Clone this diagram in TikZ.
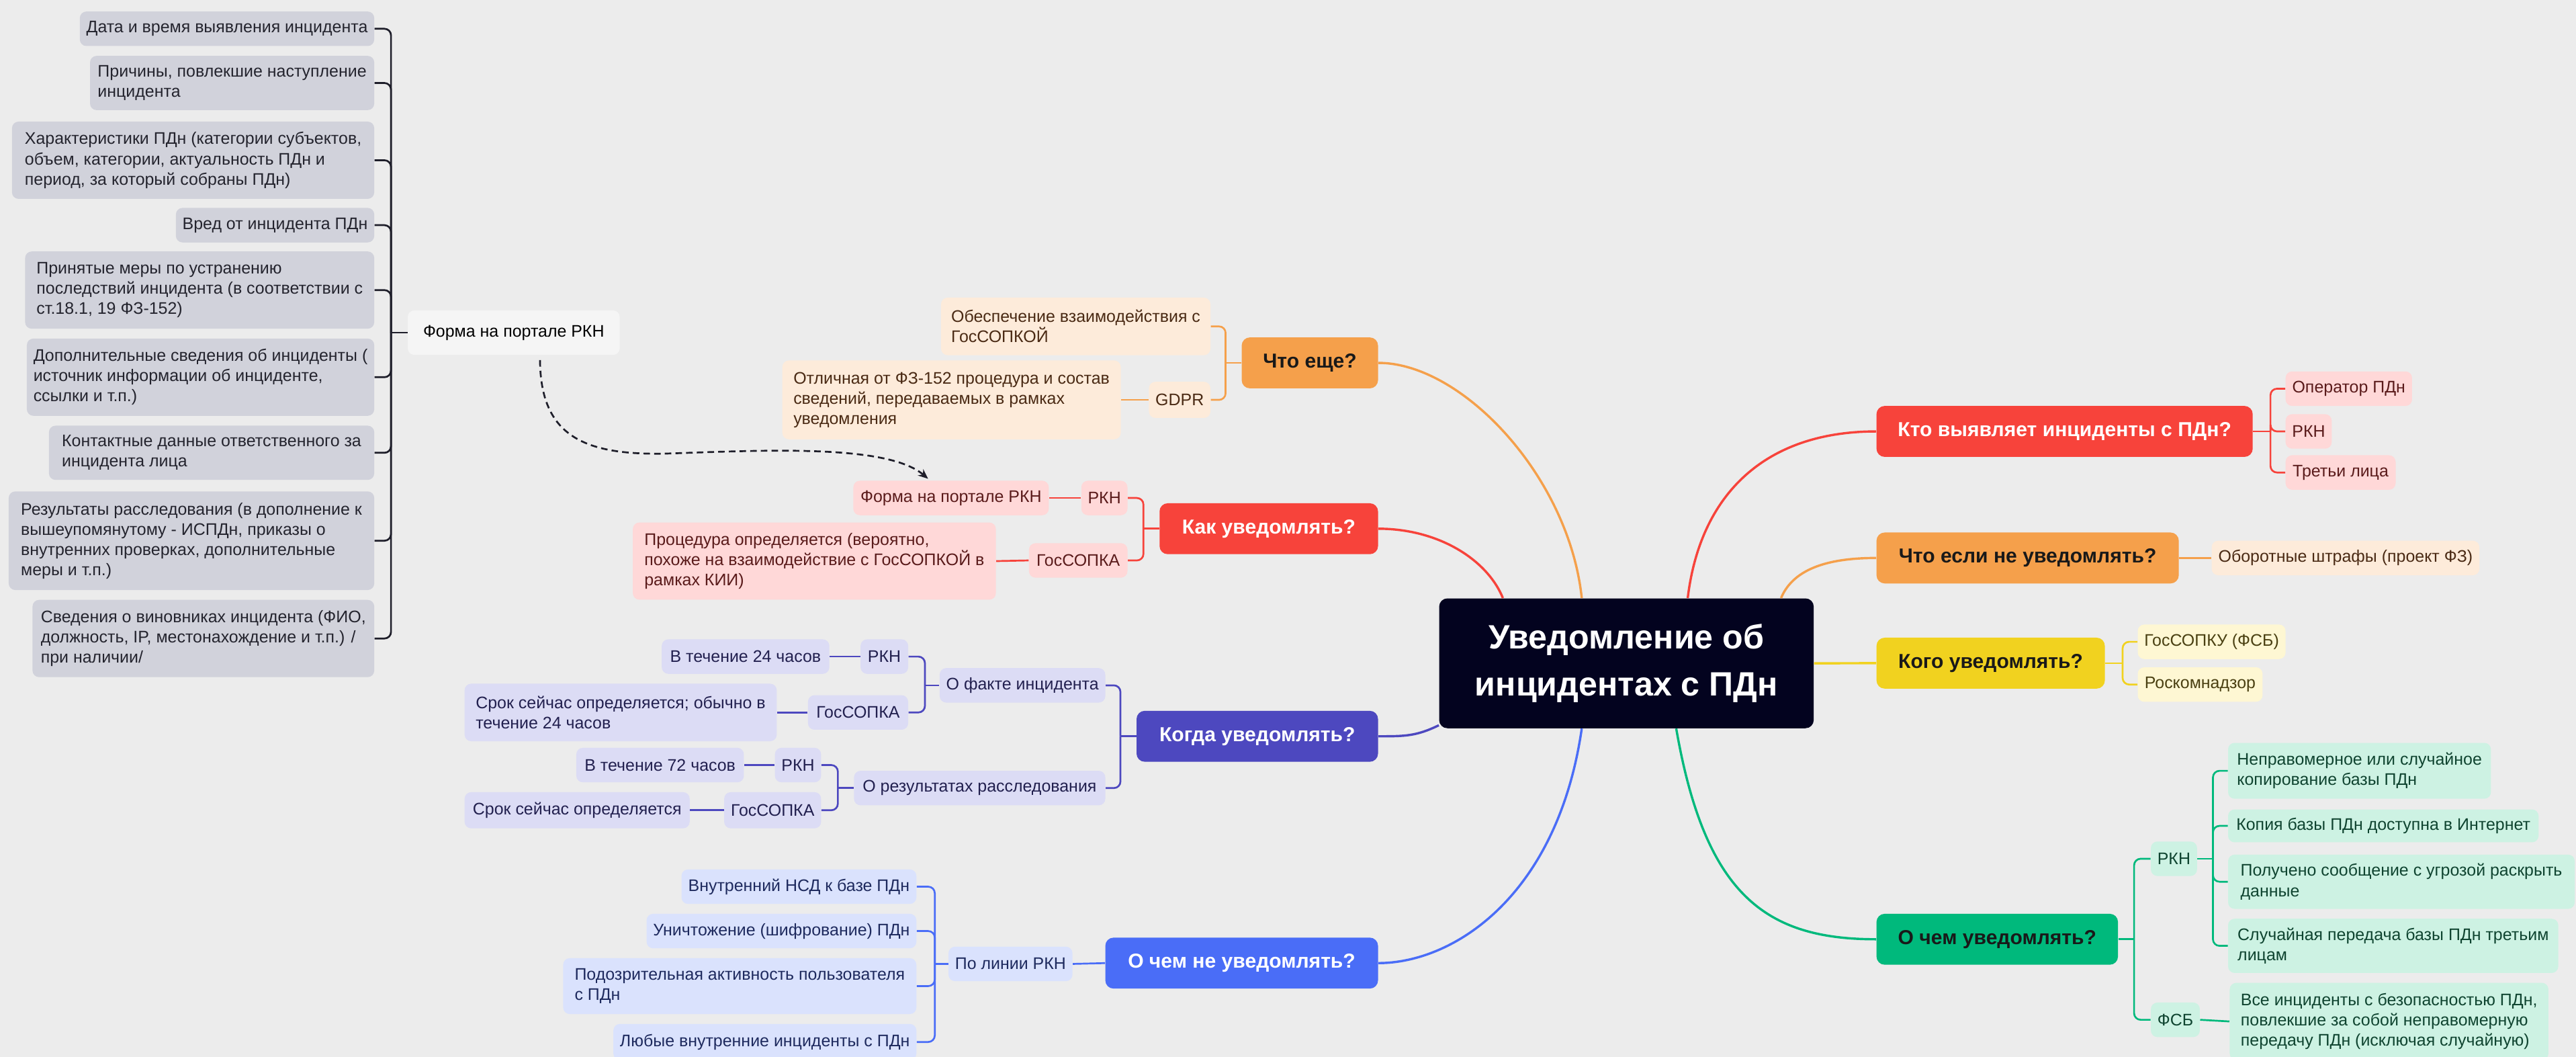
\documentclass[tikz,border=0pt]{standalone}
\usepackage{fontspec}
\setmainfont{Liberation Sans}
\usetikzlibrary{arrows.meta}

\definecolor{paper}{HTML}{ECECEC}
\definecolor{hubcol}{HTML}{03031F}
\definecolor{orangecol}{HTML}{F5A04B}
\definecolor{orangesoft}{HTML}{FDEBDA}
\definecolor{orangeink}{HTML}{4A2A14}
\definecolor{redcol}{HTML}{F7433B}
\definecolor{redsoft}{HTML}{FFD8D8}
\definecolor{redink}{HTML}{5A1B1B}
\definecolor{indigocol}{HTML}{4D48BF}
\definecolor{indigosoft}{HTML}{DCDCF5}
\definecolor{indigoink}{HTML}{22204F}
\definecolor{bluecol}{HTML}{4A6DF7}
\definecolor{bluesoft}{HTML}{DAE2FD}
\definecolor{blueink}{HTML}{1E2A5E}
\definecolor{yellowcol}{HTML}{F1D21F}
\definecolor{yellowsoft}{HTML}{FEF7D3}
\definecolor{yellowink}{HTML}{4A4012}
\definecolor{greencol}{HTML}{00B97C}
\definecolor{greensoft}{HTML}{CDF2E3}
\definecolor{greenink}{HTML}{0F4430}
\definecolor{graysoft}{HTML}{D1D2DB}
\definecolor{grayink}{HTML}{24242E}
\definecolor{inkline}{HTML}{1E1E2A}

\tikzset{
  leaf/.style={rounded corners=4pt, inner xsep=4pt, inner ysep=2pt, align=left,
    minimum height=21, font=\fontsize{10.2}{12.3}\selectfont},
  grayleaf/.style={leaf, fill=graysoft, text=grayink},
  orangeleaf/.style={leaf, fill=orangesoft, text=orangeink},
  redleaf/.style={leaf, fill=redsoft, text=redink},
  indigoleaf/.style={leaf, fill=indigosoft, text=indigoink},
  blueleaf/.style={leaf, fill=bluesoft, text=blueink},
  yellowleaf/.style={leaf, fill=yellowsoft, text=yellowink},
  greenleaf/.style={leaf, fill=greensoft, text=greenink},
  topic/.style={rounded corners=5pt, inner xsep=6pt, minimum height=31,
    text=black!90, font=\bfseries\fontsize{12.3}{14}\selectfont},
  hub/.style={rounded corners=5pt, fill=hubcol, text=white, align=center,
    font=\bfseries\fontsize{20.5}{28.6}\selectfont},
  link/.style={draw=#1, line width=1.1pt, rounded corners=4pt},
  branch/.style={draw=#1, line width=1.4pt},
  dashflow/.style={draw=inkline, line width=1.1pt, dash pattern=on 4pt off 2.5pt,
    -{Stealth[length=6pt,width=5pt]}}
}

\begin{document}
\begin{tikzpicture}[x=1pt, y=-1pt]
    \fill[paper] (0,0) rectangle (1568,643);
    \useasboundingbox (0,0) rectangle (1568,643);

    % Central topic
    \node[hub, minimum width=228, minimum height=79] (hub) at (990,403.6) {Уведомление об\\инцидентах с ПДн};

    % Main topics, left side
    \node[topic, fill=orangecol, minimum width=83, anchor=east] (whatElse) at (839,220.8) {Что еще?};
    \node[topic, fill=redcol, text=white, minimum width=133, anchor=east] (howNotify) at (839,321.7) {Как уведомлять?};
    \node[topic, fill=indigocol, text=white, minimum width=147, anchor=east] (whenNotify) at (839,448) {Когда уведомлять?};
    \node[topic, fill=bluecol, text=white, minimum width=166, anchor=east] (notNotify) at (839,586) {О чем не уведомлять?};

    % Main topics, right side
    \node[topic, fill=redcol, text=white, minimum width=229, anchor=west] (whoDetects) at (1142,262.5) {Кто выявляет инциденты с ПДн?};
    \node[topic, fill=orangecol, minimum width=184, anchor=west] (ifNot) at (1142,339.5) {Что если не уведомлять?};
    \node[topic, fill=yellowcol, minimum width=139, anchor=west] (whomNotify) at (1142,403.5) {Кого уведомлять?};
    \node[topic, fill=greencol, minimum width=147, anchor=west] (aboutWhat) at (1142,571.5) {О чем уведомлять?};

    % Branches from the central topic
    \draw[branch=orangecol] ([xshift=87pt]hub.north west) .. controls (955,290) and (890,220.8) .. (whatElse.east);
    \draw[branch=redcol] ([xshift=39pt]hub.north west) .. controls (905,340) and (875,321.7) .. (howNotify.east);
    \draw[branch=indigocol] ([yshift=2pt]hub.south west) .. controls (862,448) and (855,448) .. (whenNotify.east);
    \draw[branch=bluecol] ([xshift=87pt]hub.south west) .. controls (948,545) and (885,586) .. (notNotify.east);
    \draw[branch=redcol] ([xshift=151.5pt]hub.north west) .. controls (1035,300) and (1075,262.5) .. (whoDetects.west);
    \draw[branch=orangecol] ([xshift=208.3pt]hub.north west) .. controls (1092,345) and (1115,339.5) .. (ifNot.west);
    \draw[branch=yellowcol] (hub.east) -- (whomNotify.west);
    \draw[branch=greencol] ([xshift=144.5pt]hub.south west) .. controls (1038,545) and (1075,571.5) .. (aboutWhat.west);

    % Portal form fields
    \node[leaf, fill=black!4, text=black, minimum width=129, minimum height=27, anchor=west] (formPortal) at (248,202.4) {Форма на портале РКН};
    \node[grayleaf, minimum width=178, anchor=east] (info1) at (228,17.5) {Дата и время выявления инцидента};
    \node[grayleaf, minimum width=173, minimum height=33, anchor=east] (info2) at (228,50.5) {Причины, повлекшие наступление\\инцидента};
    \node[grayleaf, minimum width=220.5, minimum height=47, anchor=east] (info3) at (228,97.5) {Характеристики ПДн (категории субъектов,\\объем, категории, актуальность ПДн и\\период, за который собраны ПДн)};
    \node[grayleaf, minimum width=120, anchor=east] (info4) at (228,137) {Вред от инцидента ПДн};
    \node[grayleaf, minimum width=212.5, minimum height=47, anchor=east] (info5) at (228,176.5) {Принятые меры по устранению\\последствий инцидента (в соответствии с\\ст.18.1, 19 ФЗ-152)};
    \node[grayleaf, minimum width=211, minimum height=47, anchor=east] (info6) at (228,229.5) {Дополнительные сведения об инциденты (\\источник информации об инциденте,\\ссылки и т.п.)};
    \node[grayleaf, minimum width=198, minimum height=33, anchor=east] (info7) at (228,275.5) {Контактные данные ответственного за\\инцидента лица};
    \node[grayleaf, minimum width=222.5, minimum height=60, anchor=east] (info8) at (228,329) {Результаты расследования (в дополнение к\\вышеупомянутому - ИСПДн, приказы о\\внутренних проверках, дополнительные\\меры и т.п.)};
    \node[grayleaf, minimum width=208, minimum height=47, anchor=east] (info9) at (228,388.5) {Сведения о виновниках инцидента (ФИО,\\должность, IP, местонахождение и т.п.) /\\при наличии/};
    \coordinate (formT) at (238,202.4);
    \draw[link=inkline] (formPortal.west) -- (formT);
    \foreach \i in {1,...,9}
        \draw[link=inkline] (formT) |- (info\i.east);

    % What else
    \node[orangeleaf, minimum width=164, minimum height=35, anchor=east] (extraSopka) at (737,198.6) {Обеспечение взаимодействия с\\ГосСОПКОЙ};
    \node[orangeleaf, minimum width=36, minimum height=22, anchor=east] (extraGdpr) at (737,243.3) {GDPR};
    \node[orangeleaf, minimum width=206, minimum height=48, anchor=east] (gdprNote) at (682.4,243.3) {Отличная от ФЗ-152 процедура и состав\\сведений, передаваемых в рамках\\уведомления};
    \coordinate (extraT) at (746,220.8);
    \draw[link=orangecol] (whatElse.west) -- (extraT);
    \foreach \n in {extraSopka,extraGdpr}
        \draw[link=orangecol] (extraT) |- (\n.east);
    \draw[link=orangecol] (extraGdpr.west) -- (gdprNote.east);

    % How to notify
    \node[redleaf, minimum width=28, anchor=east] (howRkn) at (686.5,303) {РКН};
    \node[redleaf, minimum width=119, anchor=east] (howRknForm) at (638.6,303) {Форма на портале РКН};
    \node[redleaf, minimum width=60, anchor=east] (howSopka) at (686.5,341) {ГосСОПКА};
    \node[redleaf, minimum width=221, minimum height=47, anchor=east] (howSopkaNote) at (606.4,341.4) {Процедура определяется (вероятно,\\похоже на взаимодействие с ГосСОПКОЙ в\\рамках КИИ)};
    \coordinate (howT) at (696,321.7);
    \draw[link=redcol] (howNotify.west) -- (howT);
    \foreach \n in {howRkn,howSopka}
        \draw[link=redcol] (howT) |- (\n.east);
    \draw[link=redcol] (howRkn.west) -- (howRknForm.east);
    \draw[link=redcol] (howSopka.west) -- (howSopkaNote.east);

    % Form reference
    \draw[dashflow] ([xshift=16pt,yshift=-3pt]formPortal.south) .. controls (329,265) and (355,277) .. (405,276)
        .. controls (465,274) and (540,270) .. ([xshift=-14pt,yshift=1pt]howRknForm.north);

    % When to notify
    \node[indigoleaf, minimum width=100, anchor=east] (factNode) at (673,417) {О факте инцидента};
    \node[indigoleaf, minimum width=153, anchor=east] (resultNode) at (673,479.5) {О результатах расследования};
    \node[indigoleaf, minimum width=29, anchor=east] (factRkn) at (553,399.5) {РКН};
    \node[indigoleaf, minimum width=102, anchor=east] (factRknTerm) at (505,399.5) {В течение 24 часов};
    \node[indigoleaf, minimum width=61, anchor=east] (factSopka) at (553,433.5) {ГосСОПКА};
    \node[indigoleaf, minimum width=190, minimum height=35, anchor=east] (factSopkaTerm) at (473,433.5) {Срок сейчас определяется; обычно в\\течение 24 часов};
    \node[indigoleaf, minimum width=28, anchor=east] (resRkn) at (500,465.5) {РКН};
    \node[indigoleaf, minimum width=102, anchor=east] (resRknTerm) at (453,465.5) {В течение 72 часов};
    \node[indigoleaf, minimum width=59, minimum height=22, anchor=east] (resSopka) at (500,493) {ГосСОПКА};
    \node[indigoleaf, minimum width=137, minimum height=22, anchor=east] (resSopkaTerm) at (420,493) {Срок сейчас определяется};
    \coordinate (whenT) at (682,448);
    \coordinate (factT) at (563,417);
    \coordinate (resT) at (510,479.5);
    \draw[link=indigocol] (whenNotify.west) -- (whenT);
    \foreach \n in {factNode,resultNode}
        \draw[link=indigocol] (whenT) |- (\n.east);
    \draw[link=indigocol] (factNode.west) -- (factT);
    \foreach \n in {factRkn,factSopka}
        \draw[link=indigocol] (factT) |- (\n.east);
    \draw[link=indigocol] (resultNode.west) -- (resT);
    \foreach \n in {resRkn,resSopka}
        \draw[link=indigocol] (resT) |- (\n.east);
    \draw[link=indigocol] (factRkn.west) -- (factRknTerm.east);
    \draw[link=indigocol] (factSopka.west) -- (factSopkaTerm.east);
    \draw[link=indigocol] (resRkn.west) -- (resRknTerm.east);
    \draw[link=indigocol] (resSopka.west) -- (resSopkaTerm.east);

    % What not to report
    \node[blueleaf, minimum width=74, anchor=east] (rknLine) at (653,586.5) {По линии РКН};
    \node[blueleaf, minimum width=143, anchor=east] (skip1) at (558,539.5) {Внутренний НСД к базе ПДн};
    \node[blueleaf, minimum width=164, anchor=east] (skip2) at (558,566.5) {Уничтожение (шифрование) ПДн};
    \node[blueleaf, minimum width=215, minimum height=34, anchor=east] (skip3) at (558,600) {Подозрительная активность пользователя\\с ПДн};
    \node[blueleaf, minimum width=184, minimum height=22, anchor=east] (skip4) at (558,634) {Любые внутренние инциденты с ПДн};
    \coordinate (rknLineT) at (569,586.5);
    \draw[link=bluecol] (notNotify.west) -- (rknLine.east);
    \draw[link=bluecol] (rknLine.west) -- (rknLineT);
    \foreach \i in {1,...,4}
        \draw[link=bluecol] (rknLineT) |- (skip\i.east);

    % Who detects
    \node[redleaf, minimum width=77, anchor=west] (detect1) at (1391,236.5) {Оператор ПДн};
    \node[redleaf, minimum width=28, anchor=west] (detect2) at (1391,262.5) {РКН};
    \node[redleaf, minimum width=67, anchor=west] (detect3) at (1391,287.5) {Третьи лица};
    \coordinate (detectT) at (1382,262.5);
    \draw[link=redcol] (whoDetects.east) -- (detectT);
    \foreach \i in {1,2,3}
        \draw[link=redcol] (detectT) |- (detect\i.west);

    % If not notified
    \node[orangeleaf, minimum width=163, anchor=west] (fines) at (1346,339.5) {Оборотные штрафы (проект ФЗ)};
    \draw[link=orangecol] (ifNot.east) -- (fines.west);

    % Whom to notify
    \node[yellowleaf, minimum width=90, anchor=west] (whom1) at (1301,390.5) {ГосСОПКУ (ФСБ)};
    \node[yellowleaf, minimum width=76, anchor=west] (whom2) at (1301,416.5) {Роскомнадзор};
    \coordinate (whomT) at (1292,403.5);
    \draw[link=yellowcol] (whomNotify.east) -- (whomT);
    \foreach \i in {1,2}
        \draw[link=yellowcol] (whomT) |- (whom\i.west);

    % What to report
    \node[greenleaf, minimum width=27, anchor=west] (aboutRkn) at (1309,522.5) {РКН};
    \node[greenleaf, minimum width=29, anchor=west] (aboutFsb) at (1309,620.5) {ФСБ};
    \node[greenleaf, minimum width=160, minimum height=34, anchor=west] (case1) at (1356,469) {Неправомерное или случайное\\копирование базы ПДн};
    \node[greenleaf, minimum width=189, minimum height=20, anchor=west] (case2) at (1356,502.5) {Копия базы ПДн доступна в Интернет};
    \node[greenleaf, minimum width=211, minimum height=33, anchor=west] (case3) at (1356,536.5) {Получено сообщение с угрозой раскрыть\\данные};
    \node[greenleaf, minimum width=201, minimum height=33, anchor=west] (case4) at (1356,575.5) {Случайная передача базы ПДн третьим\\лицам};
    \node[greenleaf, minimum width=194, minimum height=47, anchor=west] (fsbCase) at (1357,621.5) {Все инциденты с безопасностью ПДн,\\повлекшие за собой неправомерную\\передачу ПДн (исключая случайную)};
    \coordinate (aboutT) at (1299,571.5);
    \coordinate (caseT) at (1347,522.5);
    \draw[link=greencol] (aboutWhat.east) -- (aboutT);
    \foreach \n in {aboutRkn,aboutFsb}
        \draw[link=greencol] (aboutT) |- (\n.west);
    \draw[link=greencol] (aboutRkn.east) -- (caseT);
    \foreach \i in {1,...,4}
        \draw[link=greencol] (caseT) |- (case\i.west);
    \draw[link=greencol] (aboutFsb.east) -- (fsbCase.west);
\end{tikzpicture}
\end{document}
